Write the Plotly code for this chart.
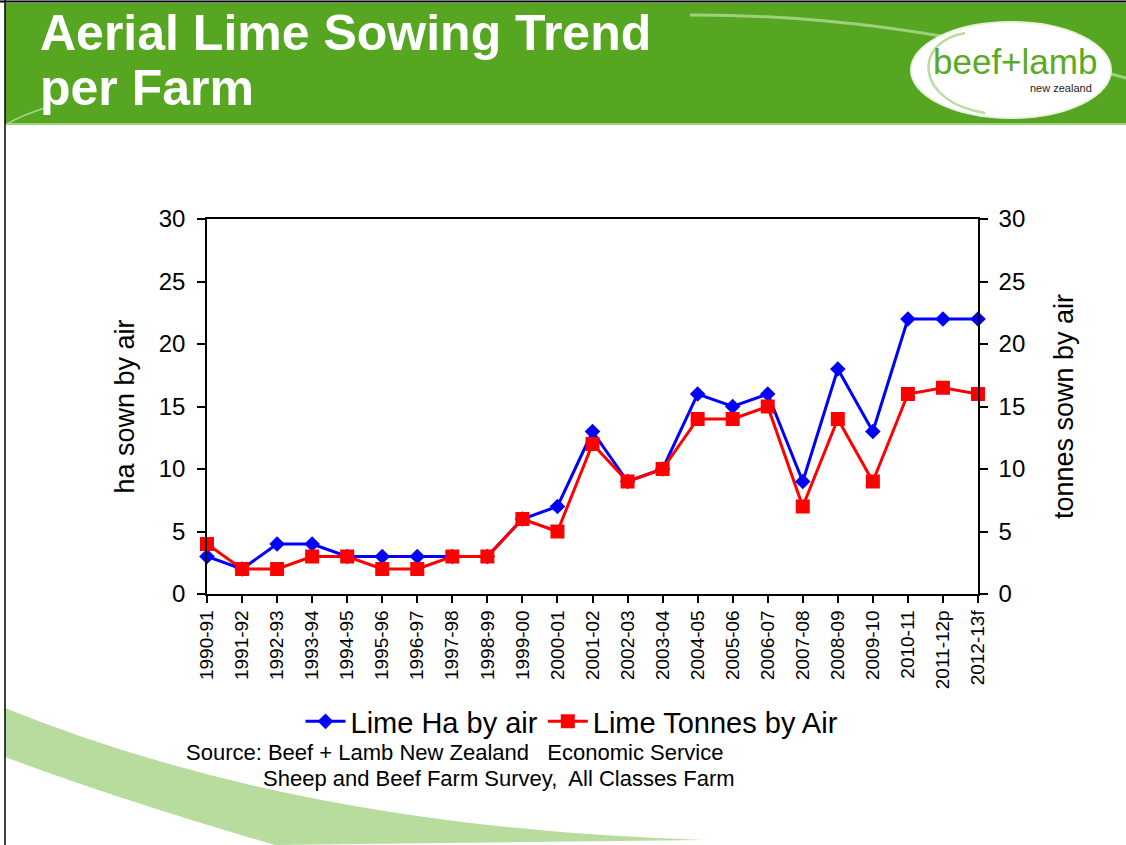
import plotly.graph_objects as go

# ---- data ----
seasons = ["1990-91", "1991-92", "1992-93", "1993-94", "1994-95", "1995-96", "1996-97",
           "1997-98", "1998-99", "1999-00", "2000-01", "2001-02", "2002-03", "2003-04",
           "2004-05", "2005-06", "2006-07", "2007-08", "2008-09", "2009-10", "2010-11",
           "2011-12p", "2012-13f"]
lime_ha = [3, 2, 4, 4, 3, 3, 3, 3, 3, 6, 7, 13, 9, 10, 16, 15, 16, 9, 18, 13, 22, 22, 22]
lime_tonnes = [4, 2, 2, 3, 3, 2, 2, 3, 3, 6, 5, 12, 9, 10, 14, 14, 15, 7, 14, 9, 16, 16.5, 16]
y_ticks = [0, 5, 10, 15, 20, 25, 30]

W, H = 1126, 845
L, R, T, B = 207, 978, 219, 594


def px(x):
    return (x - L) / (R - L)


def py(y):
    return (B - y) / (B - T)


xs = list(range(len(seasons)))
FONT = "Liberation Sans, Arial, sans-serif"
NARROW = "Liberation Sans Narrow, Arial Narrow, sans-serif"

fig = go.Figure()
fig.add_trace(go.Scatter(
    x=xs, y=lime_ha, name="Lime Ha by air", mode="lines+markers",
    line=dict(color="#0000ff", width=3),
    marker=dict(symbol="diamond", size=12, color="#0000ff"),
    cliponaxis=False, yaxis="y"))
fig.add_trace(go.Scatter(
    x=xs, y=lime_tonnes, name="Lime Tonnes by Air", mode="lines+markers",
    line=dict(color="#ff0000", width=3),
    marker=dict(symbol="square", size=14, color="#ff0000"),
    cliponaxis=False, yaxis="y2"))

shapes = []
# header band
shapes.append(dict(type="rect", xref="paper", yref="paper",
                   x0=px(5), x1=px(W), y0=py(123), y1=py(3),
                   fillcolor="#57a622", line=dict(width=0), layer="below"))
shapes.append(dict(type="line", xref="paper", yref="paper",
                   x0=px(5), x1=px(W), y0=py(124), y1=py(124),
                   line=dict(color="#9fcf7f", width=2), layer="below"))
# header swooshes
shapes.append(dict(type="path", xref="paper", yref="paper",
                   path=f"M {px(690)},{py(15)} Q {px(900)},{py(14)} {px(1126)},{py(78)}",
                   line=dict(color="#9fd07e", width=3), layer="below"))
shapes.append(dict(type="path", xref="paper", yref="paper",
                   path=f"M {px(7)},{py(124)} Q {px(20)},{py(116)} {px(45)},{py(108)}",
                   line=dict(color="#a9d68c", width=1.5), layer="below"))
# bottom swoosh
shapes.append(dict(type="path", xref="paper", yref="paper",
                   path=(f"M {px(5)},{py(708)} Q {px(300)},{py(828)} {px(705)},{py(840)} "
                         f"L {px(275)},{py(845)} Q {px(120)},{py(800)} {px(5)},{py(757)} Z"),
                   fillcolor="#b8dc9e", line=dict(width=0), layer="below"))
# borders
shapes.append(dict(type="line", xref="paper", yref="paper",
                   x0=px(5), x1=px(5), y0=py(0), y1=py(845),
                   line=dict(color="black", width=1.5)))
shapes.append(dict(type="line", xref="paper", yref="paper",
                   x0=px(0), x1=px(W), y0=py(1.5), y1=py(1.5),
                   line=dict(color="black", width=2)))
# logo ellipse
shapes.append(dict(type="circle", xref="paper", yref="paper",
                   x0=px(911), x1=px(1111), y0=py(118), y1=py(22),
                   fillcolor="white", line=dict(color="#e8f3df", width=2)))
shapes.append(dict(type="path", xref="paper", yref="paper",
                   path=f"M {px(965)},{py(33)} C {px(912)},{py(42)} {px(915)},{py(102)} {px(985)},{py(113)}",
                   line=dict(color="#b8dc9e", width=2.5)))

annotations = [
    dict(text="<b>Aerial Lime Sowing Trend</b>", xref="paper", yref="paper",
         x=px(38), y=py(33), xanchor="left", yanchor="middle", showarrow=False,
         font=dict(family=FONT, size=50, color="white")),
    dict(text="<b>per Farm</b>", xref="paper", yref="paper",
         x=px(38), y=py(88), xanchor="left", yanchor="middle", showarrow=False,
         font=dict(family=FONT, size=50, color="white")),
    dict(text="beef+lamb", xref="paper", yref="paper",
         x=px(1015), y=py(62), xanchor="center", yanchor="middle", showarrow=False,
         font=dict(family=NARROW, size=35, color="#5aaa26")),
    dict(text="new zealand", xref="paper", yref="paper",
         x=px(1094), y=py(88), xanchor="right", yanchor="middle", showarrow=False,
         font=dict(family=NARROW, size=11, color="#222222")),
    dict(text="Source: Beef + Lamb New Zealand   Economic Service", xref="paper", yref="paper",
         x=px(184), y=py(752), xanchor="left", yanchor="middle", showarrow=False,
         font=dict(family=FONT, size=22, color="black")),
    dict(text="Sheep and Beef Farm Survey,  All Classes Farm", xref="paper", yref="paper",
         x=px(261), y=py(778), xanchor="left", yanchor="middle", showarrow=False,
         font=dict(family=FONT, size=22, color="black")),
]

axis_common = dict(showgrid=False, zeroline=False, showline=True, linecolor="black",
                   linewidth=1.5, ticks="outside", ticklen=8, tickcolor="black", tickwidth=1.5)

fig.update_layout(
    width=W, height=H,
    margin=dict(l=L, r=W - R, t=T, b=H - B, pad=0),
    paper_bgcolor="white", plot_bgcolor="white",
    font=dict(family=FONT, color="black"),
    showlegend=True,
    legend=dict(orientation="h", x=px(572), xanchor="center", y=py(696), yanchor="top",
                font=dict(family=FONT, size=29, color="black"), bgcolor="rgba(0,0,0,0)",
                itemwidth=40, tracegroupgap=0),
    xaxis=dict(range=[0, len(seasons) - 1], tickmode="array", tickvals=xs, ticktext=seasons,
               tickangle=-90, tickfont=dict(size=19), mirror=True,
               **{**axis_common, "ticklen": 7}),
    yaxis=dict(range=[0, 30], tickvals=y_ticks, tickfont=dict(size=24), ticklabelstandoff=7,
               title=dict(text="ha sown by air", font=dict(size=27), standoff=16), **axis_common),
    yaxis2=dict(range=[0, 30], tickvals=y_ticks, tickfont=dict(size=24), overlaying="y", side="right",
                ticklabelstandoff=6,
                title=dict(text="tonnes sown by air", font=dict(size=27), standoff=30), **axis_common),
    shapes=shapes,
    annotations=annotations,
    hovermode=False,
)

fig.write_html("out.html", config={"displayModeBar": False})
